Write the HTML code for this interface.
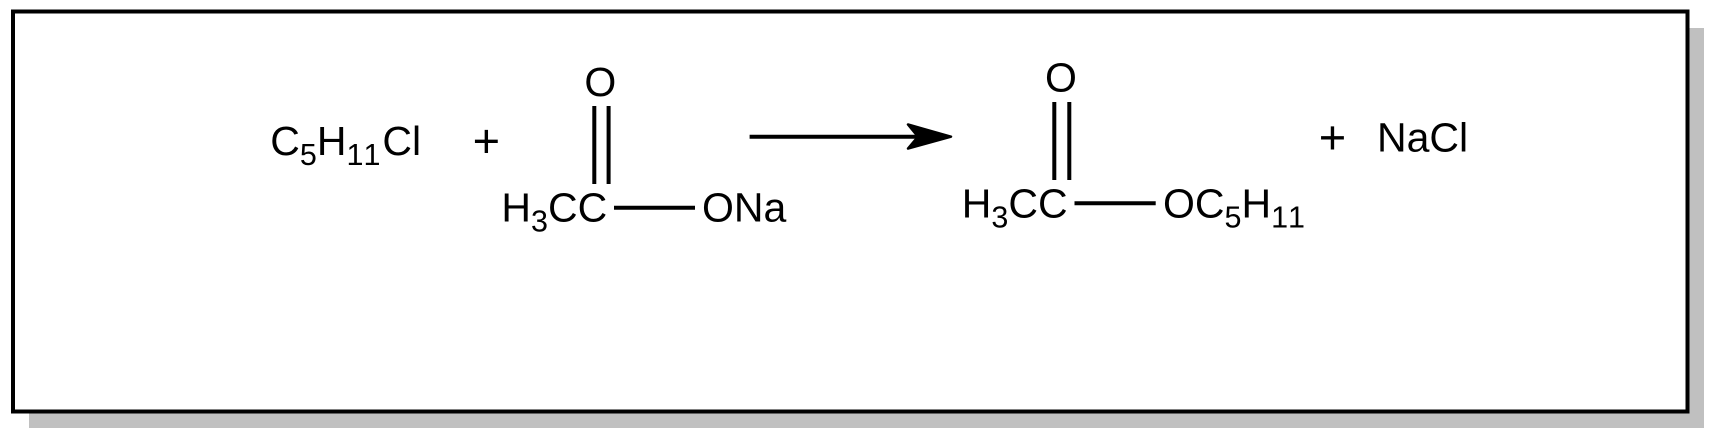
<!DOCTYPE html>
<html><head><meta charset="utf-8"><style>html,body{margin:0;padding:0;background:#fff}svg{display:block}
text{font-family:"Liberation Sans",Arial,sans-serif;font-size:41px;fill:#000;font-kerning:none}
.s{font-size:30.5px}.p{font-size:47px}</style></head><body>
<svg width="1716" height="440" viewBox="0 0 1716 440" xmlns="http://www.w3.org/2000/svg">
<rect x="29" y="28" width="1675" height="400" fill="#c0c0c0"/>
<rect x="13" y="11.5" width="1674.5" height="400" fill="#fff" stroke="#000" stroke-width="4"/>
<text x="270.3" y="155">C<tspan class="s" dy="10">5</tspan><tspan dy="-10">H</tspan><tspan class="s" dy="10">11</tspan><tspan dy="-10" dx="2">Cl</tspan></text>
<text class="p" x="486.4" y="157" text-anchor="middle">+</text>
<text x="600.3" y="96" text-anchor="middle">O</text>
<path d="M594.3 106V184M608.6 106V184M614 207.7H695" stroke="#000" stroke-width="4" fill="none"/>
<text x="501.4" y="221.7">H<tspan class="s" dy="10">3</tspan><tspan dy="-10">CC</tspan></text>
<text x="702" y="221.7">ONa</text>
<path d="M749.6 136.7H920" stroke="#000" stroke-width="4" fill="none"/>
<path d="M908 124.5L951 136.7L908 148.5L918 136.7Z" fill="#000" stroke="#000" stroke-width="2.5" stroke-linejoin="round"/>
<text x="1060.9" y="91.7" text-anchor="middle">O</text>
<path d="M1054.3 102V180M1069.3 102V180M1074.5 203.3H1155.7" stroke="#000" stroke-width="4" fill="none"/>
<text x="961.8" y="217.3">H<tspan class="s" dy="10">3</tspan><tspan dy="-10">CC</tspan></text>
<text x="1163" y="217.3">OC<tspan class="s" dy="10">5</tspan><tspan dy="-10">H</tspan><tspan class="s" dy="10">11</tspan></text>
<text class="p" x="1332.5" y="153.7" text-anchor="middle">+</text>
<text x="1377" y="151.7">NaCl</text>
</svg>
</body></html>
